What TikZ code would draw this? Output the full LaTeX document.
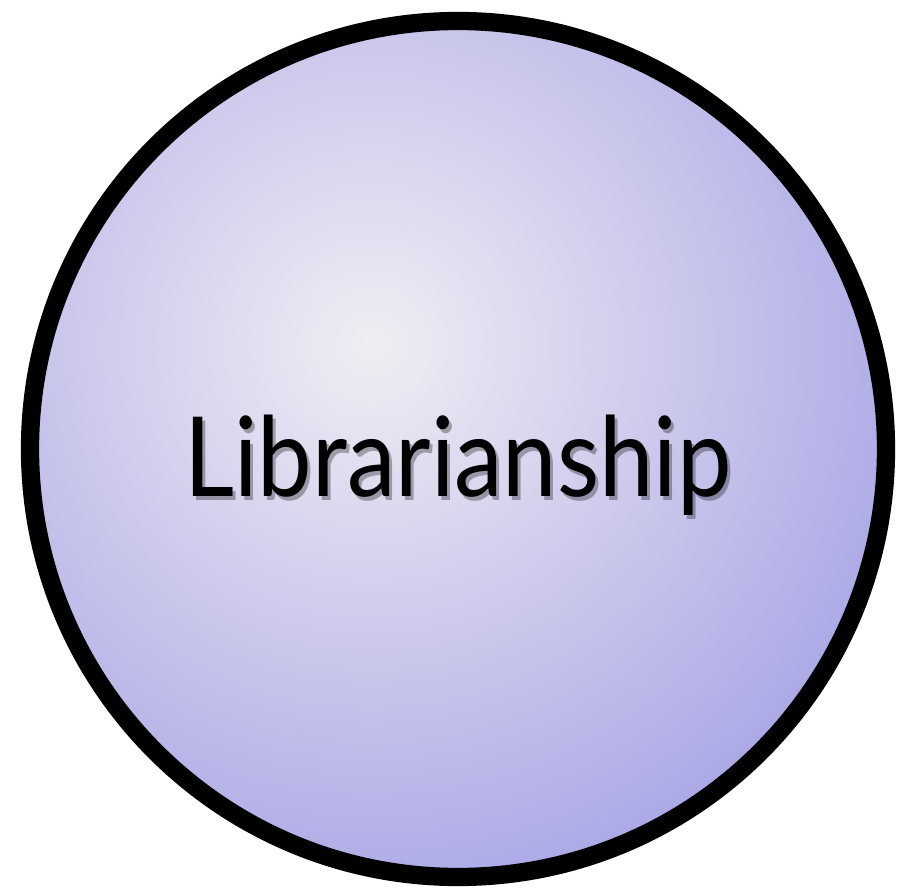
\documentclass[tikz,border=0pt]{standalone}
\usepackage{fontspec}
\setmainfont{Lato}
\usetikzlibrary{positioning}

\definecolor{libInner}{RGB}{241,237,243}
\definecolor{libOuter}{RGB}{160,158,228}

\begin{document}
\begin{tikzpicture}[x=0.02cm, y=-0.02cm, % 1 unit = 1 pixel of the 900x895 original
  labeltext/.style={font=\fontsize{63}{70}\selectfont, xscale=0.88}]
  \useasboundingbox (0,0) rectangle (900,895);

  % =============== circle with soft radial fill ===============
  \begin{scope}
    \clip (458,449) circle [radius=428];
    \shade[inner color=libInner, outer color=libOuter] (372,345) circle [radius=650];
  \end{scope}
  \draw[line width=10.4pt, black] (458,449) circle [radius=428];

  % =============== label with a light drop shadow ===============
  \node[labeltext, text=black, opacity=0.3] at (461,469) {Librarianship};
  \node[labeltext] (lib) at (458,465) {Librarianship};

\end{tikzpicture}
\end{document}
